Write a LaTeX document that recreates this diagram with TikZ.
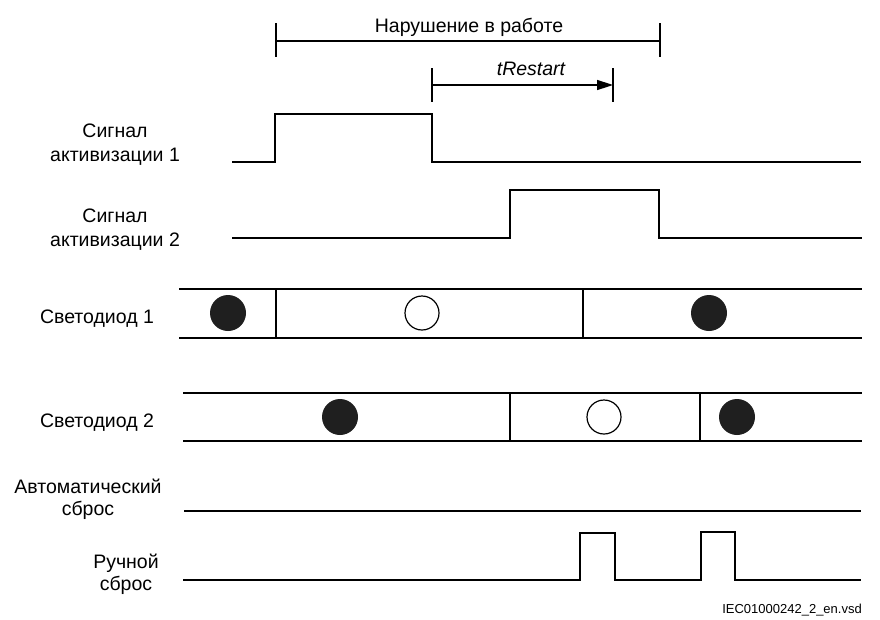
\documentclass[tikz,border=0pt]{standalone}
\usepackage{fontspec}
\setmainfont{Liberation Sans}
\usetikzlibrary{arrows.meta}
\begin{document}
\begin{tikzpicture}[x=1pt,y=-1pt,
  wave/.style={line width=1.5pt,line join=miter,line cap=butt},
  rail/.style={line width=1.5pt},
  divider/.style={line width=1.2pt},
  tick/.style={line width=1.3pt},
  lbl/.style={font=\fontsize{19.5}{23.5}\selectfont,inner sep=0pt,anchor=base},
  ledon/.style={fill=black!88,draw=none},
  ledoff/.style={draw=black,line width=1.2pt,fill=white},
  footer/.style={font=\fontsize{13}{15}\selectfont,inner sep=0pt,anchor=base east}]
\useasboundingbox (0,0) rectangle (880,619);

% ---- time spans on top ----
\coordinate (fa) at (276,41);
\coordinate (fb) at (660,41);
\draw[tick] (276,23) -- (276,57);
\draw[tick] (660,23) -- (660,57);
\draw[rail] (fa) -- (fb);
\node[lbl] (fault) at (469,32) {Нарушение в работе};

\coordinate (ra) at (432,85);
\coordinate (rb) at (613,85);
\draw[tick] (432,68) -- (432,102);
\draw[tick] (613,68) -- (613,102);
\draw[rail,-{Triangle[length=16pt,width=10pt]}] (ra) -- (rb);
\node[lbl,font=\fontsize{19.5}{23.5}\selectfont\itshape] (trst) at (531,75) {tRestart};

% ---- activation signals ----
\node[lbl] (s1a) at (115,137) {Сигнал};
\node[lbl] (s1b) at (115,161) {активизации 1};
\draw[wave] (232,162) -- (275,162) -- (275,114) -- (432,114) -- (432,162) -- (861,162);

\node[lbl] (s2a) at (115,222) {Сигнал};
\node[lbl] (s2b) at (115,246) {активизации 2};
\draw[wave] (232,238) -- (510,238) -- (510,190) -- (659,190) -- (659,238) -- (862,238);

% ---- LED 1 ----
\node[lbl] (led1) at (97,323) {Светодиод 1};
\draw[rail] (179,289) -- (862,289);
\draw[rail] (179,338) -- (862,338);
\draw[divider] (276,289) -- (276,339);
\draw[divider] (583,289) -- (583,339);
\fill[ledon] (228,313) circle[radius=18];
\draw[ledoff] (422,313) circle[radius=17];
\fill[ledon] (709,313) circle[radius=18];

% ---- LED 2 ----
\node[lbl] (led2) at (97,427) {Светодиод 2};
\draw[rail] (183,393) -- (862,393);
\draw[rail] (183,441) -- (862,441);
\draw[divider] (510,393) -- (510,441);
\draw[divider] (700,393) -- (700,441);
\fill[ledon] (340,417) circle[radius=18];
\draw[ledoff] (604,417) circle[radius=17];
\fill[ledon] (737,417) circle[radius=18];

% ---- resets ----
\node[lbl] (aut1) at (88,493) {Автоматический};
\node[lbl] (aut2) at (88,515) {сброс};
\draw[rail] (184,511) -- (861,511);

\node[lbl] (man1) at (126,568) {Ручной};
\node[lbl] (man2) at (126,590) {сброс};
\draw[wave] (183,580) -- (580,580) -- (580,533) -- (615,533) -- (615,580)
  -- (701,580) -- (701,532) -- (735,532) -- (735,580) -- (861,580);

\node[footer] (ref) at (862,613) {IEC01000242\_2\_en.vsd};
\end{tikzpicture}
\end{document}
